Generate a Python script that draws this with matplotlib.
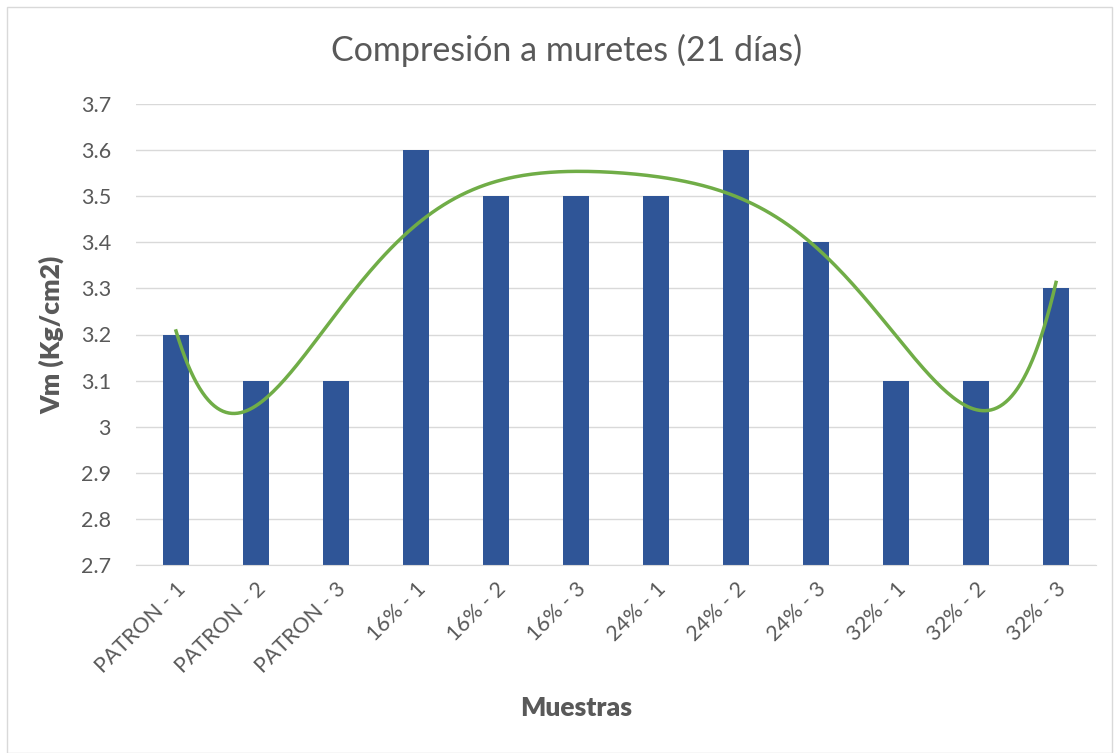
import numpy as np
import matplotlib.pyplot as plt
from matplotlib.patches import Rectangle

plt.rcParams['font.family'] = ['Lato', 'DejaVu Sans']

muestras = ['PATRON - 1', 'PATRON - 2', 'PATRON - 3', '16% - 1', '16% - 2', '16% - 3',
            '24% - 1', '24% - 2', '24% - 3', '32% - 1', '32% - 2', '32% - 3']
vm = [3.2, 3.1, 3.1, 3.6, 3.5, 3.5, 3.5, 3.6, 3.4, 3.1, 3.1, 3.3]
yticks = [2.7, 2.8, 2.9, 3.0, 3.1, 3.2, 3.3, 3.4, 3.5, 3.6, 3.7]
ytick_labels = ['2.7', '2.8', '2.9', '3', '3.1', '3.2', '3.3', '3.4', '3.5', '3.6', '3.7']

grey = '#595959'
fig = plt.figure(figsize=(11.19, 7.53), dpi=100)
ax = fig.add_axes([136 / 1119, 1 - 565 / 753, (1096 - 136) / 1119, (565 - 104) / 753])

x = np.arange(1, len(vm) + 1)
ax.bar(x, vm, width=0.32, color='#2F5597', zorder=2)

# polynomial trendline (order 6) over the sample index
coef = np.polyfit(x, vm, 6)
xs = np.linspace(1, len(vm), 300)
ax.plot(xs, np.polyval(coef, xs), color='#70AD47', lw=2.5, zorder=3)

ax.set_xlim(0.5, len(vm) + 0.5)
ax.set_ylim(2.7, 3.7)
ax.set_yticks(yticks)
ax.set_yticklabels(ytick_labels)
ax.set_xticks(x)
ax.set_xticklabels(muestras, rotation=45, ha='right', rotation_mode='anchor')
ax.tick_params(length=0, colors=grey, labelsize=15.5)
ax.tick_params(axis='y', pad=18)
ax.tick_params(axis='x', pad=10)
ax.grid(axis='y', color='#D9D9D9', lw=1, zorder=0)
for s in ['top', 'right', 'left']:
    ax.spines[s].set_visible(False)
ax.spines['bottom'].set_color('#D9D9D9')

fig.text(567 / 1119, 1 - 50 / 753, 'Compresión a muretes (21 días)', color=grey,
         fontsize=24.5, ha='center', va='center')
ax.set_ylabel('Vm (Kg/cm2)', color=grey, fontsize=19, fontweight='heavy', labelpad=12)
fig.text(576 / 1119, 1 - 708 / 753, 'Muestras', color=grey, fontsize=19,
         fontweight='heavy', ha='center', va='center')

fig.add_artist(Rectangle((7 / 1119, 0), 1 - 14 / 1119, 1 - 7 / 753, transform=fig.transFigure,
                         fill=False, edgecolor='#D9D9D9', lw=1))

fig.savefig('out.png', dpi=100)
